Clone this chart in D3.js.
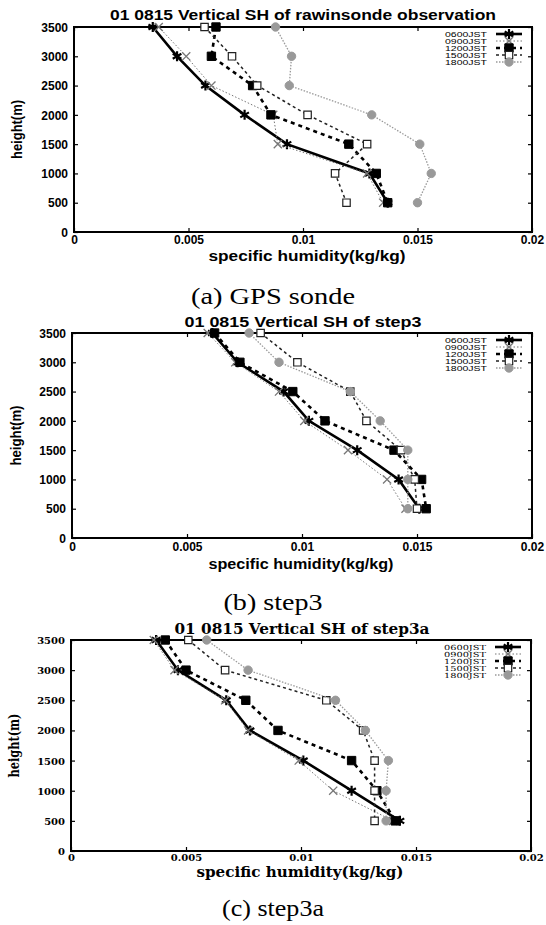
<!DOCTYPE html>
<html>
<head>
<meta charset="utf-8">
<title>01 0815 Vertical SH</title>
<script src="https://cdn.jsdelivr.net/npm/d3@7"></script>
<style>
    body { margin: 0; background: #fff; }
    svg { display: block; }
</style>
</head>
<body>
<div id="chart"></div>
<script>
    // profile levels (m), top to bottom
    var heights = [3500, 3000, 2500, 2000, 1500, 1000, 500];
    var times = ["0600JST", "0900JST", "1200JST", "1500JST", "1800JST"];
    var xTicks = [0, 0.005, 0.01, 0.015, 0.02];
    var xTickLabels = ["0", "0.005", "0.01", "0.015", "0.02"];
    var yTicks = [0, 500, 1000, 1500, 2000, 2500, 3000, 3500];

    // specific humidity (kg/kg), one row per time, same order as heights
    var sondeSH = [
        [0.00344, 0.0045, 0.00574, 0.00745, 0.0093, 0.0129, 0.0137],
        [0.0037, 0.0049, 0.0060, 0.0087, 0.0089, 0.0128, 0.0135],
        [0.0062, 0.0060, 0.0078, 0.0086, 0.0120, 0.0132, 0.0137],
        [0.0057, 0.0069, 0.0080, 0.0102, 0.0128, 0.0114, 0.0119],
        [0.0088, 0.0095, 0.0094, 0.0130, 0.0151, 0.0156, 0.0150]
    ];
    var step3SH = [
        [0.0061, 0.0072, 0.0092, 0.0103, 0.0124, 0.0142, 0.0151],
        [0.0059, 0.0071, 0.0090, 0.0101, 0.0120, 0.0137, 0.0145],
        [0.0062, 0.0073, 0.0096, 0.0110, 0.0140, 0.0152, 0.0154],
        [0.0082, 0.0098, 0.0121, 0.0128, 0.0143, 0.0149, 0.0150],
        [0.0077, 0.0090, 0.0121, 0.0134, 0.0146, 0.0146, 0.0146]
    ];
    var step3aSH = [
        [0.0037, 0.00465, 0.00675, 0.00778, 0.0101, 0.0122, 0.0143],
        [0.0036, 0.0045, 0.0067, 0.0077, 0.0099, 0.0114, 0.0140],
        [0.0041, 0.0050, 0.0076, 0.0090, 0.0122, 0.0133, 0.0141],
        [0.0051, 0.0067, 0.0111, 0.0127, 0.0132, 0.0132, 0.0132],
        [0.0059, 0.0077, 0.0115, 0.0128, 0.0138, 0.0137, 0.0137]
    ];

    var sans = "'Liberation Sans', Arial, sans-serif";
    var serif = "'DejaVu Serif', serif";
    var capFont = "'Liberation Serif', 'Times New Roman', serif";

    var styles = [
        {color: "#000", width: 2.6, dash: null, symbol: d3.symbolAsterisk, size: 70, fill: "none", sw: 2.2},
        {color: "#777", width: 1, dash: "1.5,2", symbol: d3.symbolTimes, size: 45, fill: "none", sw: 1.3},
        {color: "#000", width: 2.6, dash: "4,4", symbol: d3.symbolSquare, size: 70, fill: "#000", sw: 1},
        {color: "#222", width: 1.5, dash: "3,3", symbol: d3.symbolSquare, size: 55, fill: "#fff", sw: 1.2},
        {color: "#999", width: 1.3, dash: "1.5,1.5", symbol: d3.symbolCircle, size: 55, fill: "#999", sw: 1}
    ];

    var svg = d3.select("#chart").append("svg")
        .attr("width", 546)
        .attr("height", 925);

    var panels = [
        {data: sondeSH, title: "01 0815 Vertical SH of rawinsonde observation", font: sans, weight: "bold",
         left: 74, right: 532, top: 27, bottom: 232, titleY: 20, titleW: 386, titleX: 303,
         tickY: 244, tickFont: 12, labelY: 261, labelW: 197, labelX: 307, ylabX: 17, ylabW: 59,
         caption: "(a) GPS sonde", capY: 304, capW: 164},
        {data: step3SH, title: "01 0815 Vertical SH of step3", font: sans, weight: "bold",
         left: 72, right: 532, top: 333, bottom: 538, titleY: 327, titleW: 237, titleX: 303,
         tickY: 551, tickFont: 12, labelY: 569, labelW: 185, labelX: 301, ylabX: 16, ylabW: 60,
         caption: "(b) step3", capY: 610, capW: 99},
        {data: step3aSH, title: "01 0815 Vertical SH of step3a", font: serif, weight: "bold",
         left: 71, right: 531, top: 640, bottom: 851, titleY: 634, titleW: 255, titleX: 302,
         tickY: 861, tickFont: 10, labelY: 877, labelW: 207, labelX: 300, ylabX: 14, ylabW: 64,
         caption: "(c) step3a", capY: 916, capW: 102}
    ];

    panels.forEach(drawPanel);

    function drawPanel(p) {
        var x = d3.scaleLinear().domain([0, 0.02]).range([p.left, p.right]);
        var y = d3.scaleLinear().domain([0, 3500]).range([p.bottom, p.top]);
        var g = svg.append("g");

        // ticks on all four sides, pointing inward (gnuplot style)
        var ax = g.append("g").attr("transform", "translate(0," + p.bottom + ")")
            .call(d3.axisBottom(x).tickValues(xTicks).tickSize(-4).tickPadding(8)
                .tickFormat(function (d, i) { return xTickLabels[i]; }));
        var ay = g.append("g").attr("transform", "translate(" + p.left + ",0)")
            .call(d3.axisLeft(y).tickValues(yTicks).tickSize(-4).tickPadding(6)
                .tickFormat(d3.format("d")));
        g.append("g").attr("transform", "translate(0," + p.top + ")")
            .call(d3.axisTop(x).tickValues(xTicks).tickSize(-4).tickFormat(""));
        g.append("g").attr("transform", "translate(" + p.right + ",0)")
            .call(d3.axisRight(y).tickValues(yTicks).tickSize(-4).tickFormat(""));
        g.selectAll(".domain").remove();
        g.selectAll(".tick line").attr("stroke", "#000").attr("stroke-width", 1.2);
        [ax, ay].forEach(function (a) {
            a.selectAll("text")
                .attr("font-family", p.font).attr("font-weight", "bold")
                .attr("font-size", p.tickFont).attr("fill", "#000");
        });
        ax.selectAll("text").attr("dy", null).attr("y", p.tickY - p.bottom);
        ay.selectAll("text").attr("dy", "0.35em");

        g.append("rect")
            .attr("x", p.left).attr("y", p.top)
            .attr("width", p.right - p.left).attr("height", p.bottom - p.top)
            .attr("fill", "none").attr("stroke", "#000").attr("stroke-width", 2);

        // profiles
        var line = d3.line()
            .x(function (d) { return x(d[0]); })
            .y(function (d) { return y(d[1]); });

        p.data.forEach(function (row, k) {
            var s = styles[k];
            var pts = row.map(function (v, i) { return [v, heights[i]]; });
            g.append("path").datum(pts)
                .attr("d", line)
                .attr("fill", "none")
                .attr("stroke", s.color)
                .attr("stroke-width", s.width)
                .attr("stroke-dasharray", s.dash);
            g.selectAll(null).data(pts).enter().append("path")
                .attr("transform", function (d) { return "translate(" + x(d[0]) + "," + y(d[1]) + ")"; })
                .attr("d", d3.symbol().type(s.symbol).size(s.size))
                .attr("fill", s.fill)
                .attr("stroke", s.color)
                .attr("stroke-width", s.sw);
        });

        // legend, squeezed in the top right corner
        times.forEach(function (t, k) {
            var s = styles[k];
            var ly = p.top + 7 + k * 7;
            g.append("text")
                .attr("x", p.right - 45).attr("y", ly + 2.5)
                .attr("text-anchor", "end")
                .attr("font-family", p.font).attr("font-size", 7)
                .attr("textLength", 42).attr("lengthAdjust", "spacingAndGlyphs")
                .attr("fill", "#000")
                .text(t);
            g.append("line")
                .attr("x1", p.right - 36).attr("x2", p.right - 10)
                .attr("y1", ly).attr("y2", ly)
                .attr("stroke", s.color).attr("stroke-width", s.width)
                .attr("stroke-dasharray", s.dash);
            g.append("path")
                .attr("transform", "translate(" + (p.right - 23) + "," + ly + ")")
                .attr("d", d3.symbol().type(s.symbol).size(s.size))
                .attr("fill", s.fill).attr("stroke", s.color).attr("stroke-width", s.sw);
        });

        // titles and labels
        g.append("text")
            .attr("x", p.titleX).attr("y", p.titleY)
            .attr("text-anchor", "middle")
            .attr("font-family", p.font).attr("font-weight", p.weight).attr("font-size", 14)
            .attr("textLength", p.titleW).attr("lengthAdjust", "spacingAndGlyphs")
            .text(p.title);
        g.append("text")
            .attr("x", p.labelX).attr("y", p.labelY)
            .attr("text-anchor", "middle")
            .attr("font-family", p.font).attr("font-weight", "bold").attr("font-size", 14)
            .attr("textLength", p.labelW).attr("lengthAdjust", "spacingAndGlyphs")
            .text("specific humidity(kg/kg)");
        var cy = (p.top + p.bottom) / 2;
        g.append("text")
            .attr("transform", "translate(" + (p.ylabX + 5) + "," + cy + ") rotate(-90)")
            .attr("text-anchor", "middle")
            .attr("font-family", p.font).attr("font-weight", "bold").attr("font-size", 14)
            .attr("textLength", p.ylabW).attr("lengthAdjust", "spacingAndGlyphs")
            .text("height(m)");
        svg.append("text")
            .attr("x", 273).attr("y", p.capY)
            .attr("text-anchor", "middle")
            .attr("font-family", capFont).attr("font-size", 23)
            .attr("textLength", p.capW).attr("lengthAdjust", "spacingAndGlyphs")
            .text(p.caption);
    }
</script>
</body>
</html>
